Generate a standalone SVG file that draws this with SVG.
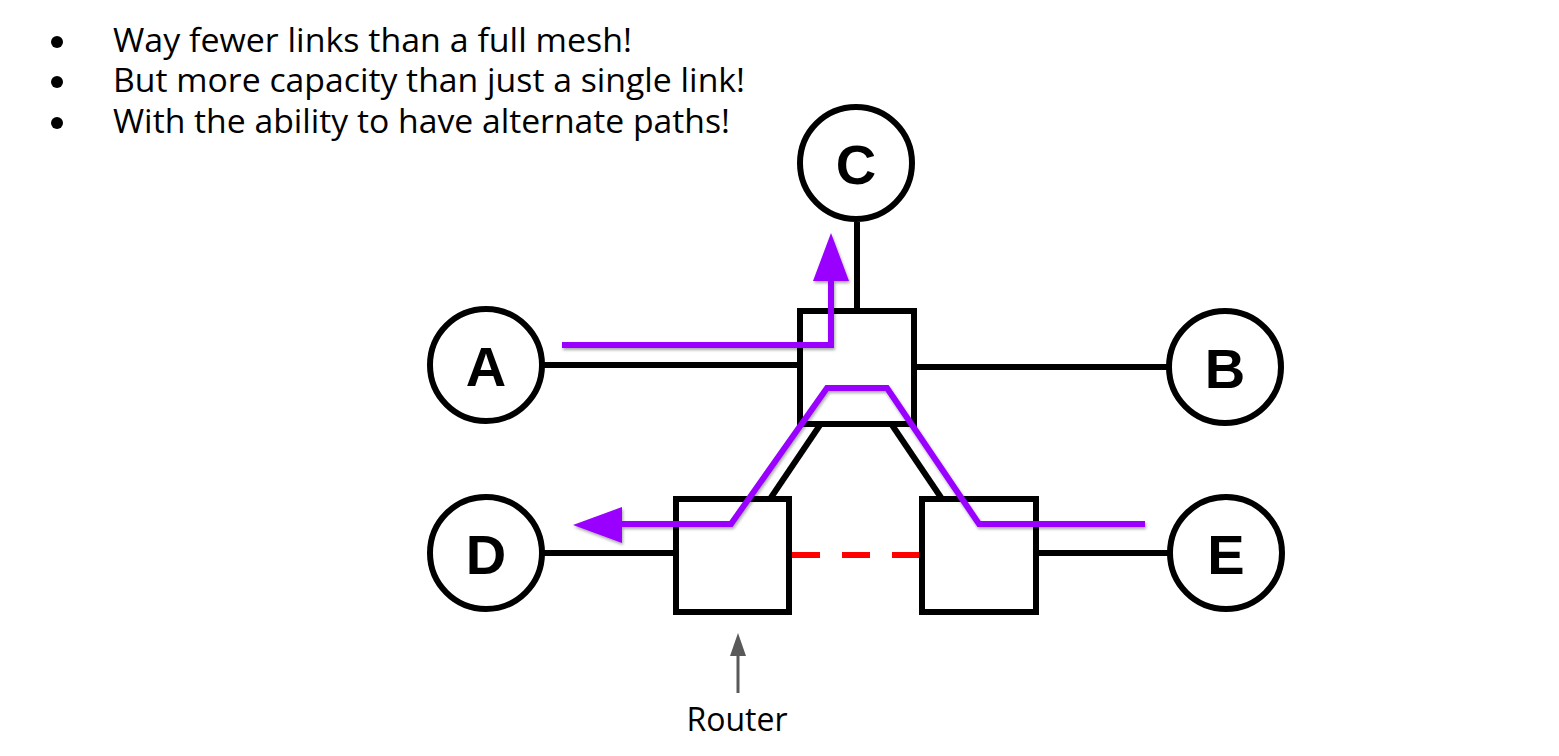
<svg xmlns="http://www.w3.org/2000/svg" width="1559" height="756" viewBox="0 0 1559 756">
<style>
.node{fill:none;stroke:#000;stroke-width:6}
.lbl{font-family:"Liberation Sans",Arial,sans-serif;font-weight:bold;font-size:56px;text-anchor:middle;fill:#000}
.link{stroke:#000;stroke-width:6;fill:none}
.bul{font-family:"Open Sans",sans-serif;font-size:33px;fill:#000}
</style>
<defs>
<filter id="sh" x="-10%" y="-10%" width="120%" height="120%">
<feDropShadow dx="1" dy="2" stdDeviation="1.5" flood-color="#000" flood-opacity="0.35"/>
</filter>
</defs>
<g id="bullets">
<circle cx="57" cy="42" r="6" fill="#000"/>
<circle cx="57" cy="82" r="6" fill="#000"/>
<circle cx="57" cy="123" r="6" fill="#000"/>
<text class="bul" x="113" y="52" textLength="519" lengthAdjust="spacingAndGlyphs">Way fewer links than a full mesh!</text>
<text class="bul" x="113" y="92" textLength="632" lengthAdjust="spacingAndGlyphs">But more capacity than just a single link!</text>
<text class="bul" x="113" y="133" textLength="617" lengthAdjust="spacingAndGlyphs">With the ability to have alternate paths!</text>
</g>
<g id="connectors">
<line class="link" x1="544" y1="365" x2="800" y2="365"/>
<line class="link" x1="914" y1="367" x2="1167" y2="367"/>
<line class="link" x1="857" y1="222" x2="857" y2="311"/>
<line class="link" x1="820" y1="425" x2="770" y2="499"/>
<line class="link" x1="892" y1="425" x2="942" y2="499"/>
<line class="link" x1="544" y1="553" x2="676" y2="553"/>
<line class="link" x1="1036" y1="553" x2="1168" y2="553"/>
<line x1="792" y1="555" x2="922" y2="555" stroke="#ff0000" stroke-width="6" stroke-dasharray="28,22"/>
</g>
<g id="node-A"><circle class="node" cx="486" cy="365" r="56" style="fill:#fff"/><text class="lbl" x="486" y="386">A</text></g>
<g id="node-B"><circle class="node" cx="1225" cy="367" r="56" style="fill:#fff"/><text class="lbl" x="1225" y="388">B</text></g>
<g id="node-C"><circle class="node" cx="856" cy="163" r="56" style="fill:#fff"/><text class="lbl" x="856" y="184">C</text></g>
<g id="node-D"><circle class="node" cx="486" cy="553" r="56" style="fill:#fff"/><text class="lbl" x="486" y="574">D</text></g>
<g id="node-E"><circle class="node" cx="1226" cy="553" r="56" style="fill:#fff"/><text class="lbl" x="1226" y="574">E</text></g>
<g id="router-top"><rect class="node" x="800" y="311" width="114" height="113"/></g>
<g id="router-left"><rect class="node" x="676" y="499" width="113" height="113"/></g>
<g id="router-right"><rect class="node" x="922" y="499" width="114" height="113"/></g>
<g id="paths">
<g filter="url(#sh)">
<polyline points="562,345 831,345 831,279" stroke="#9900ff" stroke-width="6" fill="none"/>
<polygon points="831,233 849,281 813,281" fill="#9900ff"/>
</g>
<g filter="url(#sh)">
<polyline points="1145,524 979,524 887,388 827,388 731,524 620,524" stroke="#9900ff" stroke-width="6" fill="none"/>
<polygon points="573,525 622,507 622,543" fill="#9900ff"/>
</g>
</g>
<g id="router-label">
<line x1="738" y1="693" x2="738" y2="654" stroke="#595959" stroke-width="3"/>
<polygon points="738,633 746,656 730,656" fill="#595959"/>
<text x="737" y="731" font-family="'Open Sans',sans-serif" font-size="32" text-anchor="middle" fill="#000">Router</text>
</g>
</svg>
